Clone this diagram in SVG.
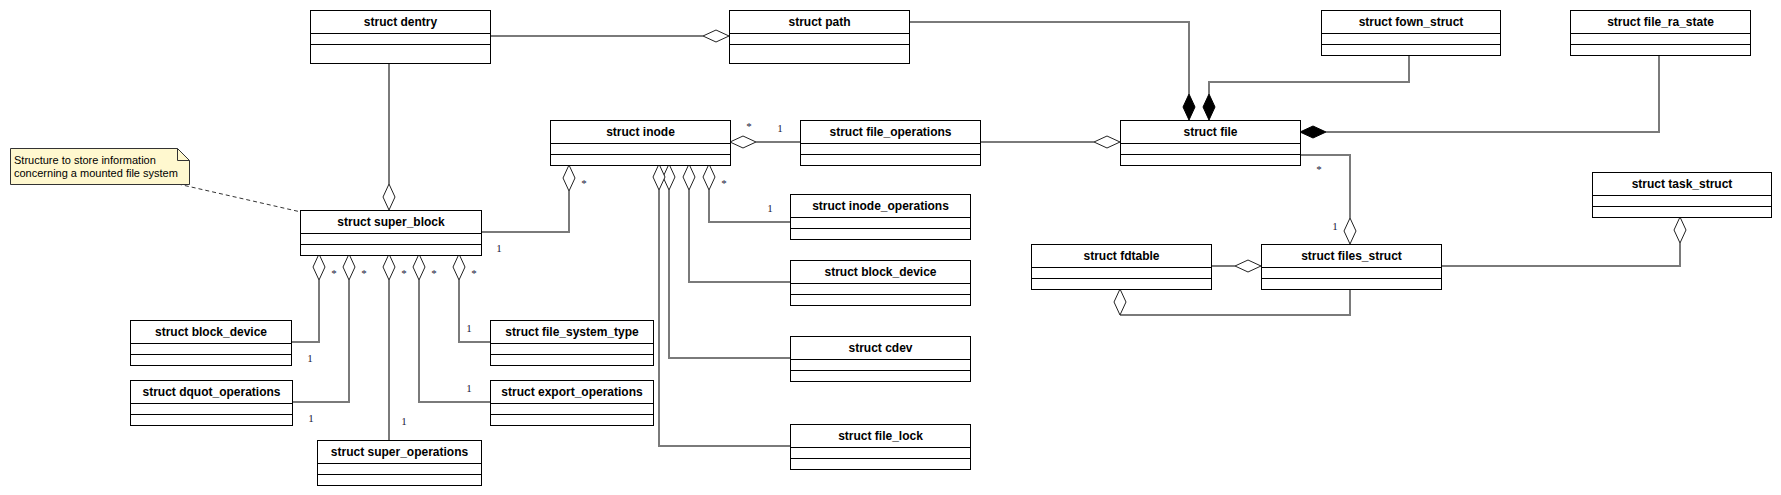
<svg xmlns="http://www.w3.org/2000/svg" width="1781" height="495" viewBox="0 0 1781 495">
<style>
.box{fill:#fff;stroke:#000;stroke-width:1}
.sep{stroke:#000;stroke-width:1}
.t{font-family:"Liberation Sans",Arial,sans-serif;font-weight:bold;font-size:12px;fill:#000;text-anchor:middle}
.ln{fill:none;stroke:#7a7a7a;stroke-width:2}
.od{fill:#fff;stroke:#222;stroke-width:1}
.fd{fill:#000;stroke:#000;stroke-width:1}
.m{font-family:"Liberation Serif","Times New Roman",serif;font-size:11px;fill:#1a1a3a;text-anchor:middle}
.note{fill:#fff8cf;stroke:#333;stroke-width:1}
.nt{font-family:"Liberation Sans",Arial,sans-serif;font-size:11px;fill:#000}
</style>
<rect width="1781" height="495" fill="#fff"/>
<g id="connectors">
<path class="ln" d="M490,36 H703"/>
<polygon class="od" points="703,36 716,30 729,36 716,42"/>
<path class="ln" d="M389,63 V184"/>
<polygon class="od" points="389,184 395,197 389,210 383,197"/>
<path class="ln" d="M909,22 H1189 V94"/>
<polygon class="fd" points="1189,94 1195,107 1189,120 1183,107"/>
<path class="ln" d="M1409,55 V82 H1209 V94"/>
<polygon class="fd" points="1209,94 1215,107 1209,120 1203,107"/>
<path class="ln" d="M1659,55 V132 H1326"/>
<polygon class="fd" points="1300,132 1313,126 1326,132 1313,138"/>
<path class="ln" d="M980,142 H1094"/>
<polygon class="od" points="1094,142 1107,136 1120,142 1107,148"/>
<path class="ln" d="M800,142 H756"/>
<polygon class="od" points="730,142 743,136 756,142 743,148"/>
<text class="m" x="749" y="130">*</text>
<text class="m" x="780" y="132">1</text>
<path class="ln" d="M481,232 H569 V191"/>
<polygon class="od" points="569,165 575,178 569,191 563,178"/>
<text class="m" x="584" y="187">*</text>
<text class="m" x="499" y="252">1</text>
<path class="ln" d="M790,222 H709 V190"/>
<polygon class="od" points="709,164 715,177 709,190 703,177"/>
<text class="m" x="724" y="187">*</text>
<text class="m" x="770" y="212">1</text>
<path class="ln" d="M790,282 H689 V190"/>
<polygon class="od" points="689,164 695,177 689,190 683,177"/>
<path class="ln" d="M790,358 H669 V190"/>
<polygon class="od" points="669,164 675,177 669,190 663,177"/>
<path class="ln" d="M790,446 H659 V190"/>
<polygon class="od" points="659,164 665,177 659,190 653,177"/>
<path class="ln" d="M291,342 H319 V280"/>
<polygon class="od" points="319,254 325,267 319,280 313,267"/>
<text class="m" x="334" y="277">*</text>
<text class="m" x="310" y="362">1</text>
<path class="ln" d="M292,402 H349 V280"/>
<polygon class="od" points="349,254 355,267 349,280 343,267"/>
<text class="m" x="364" y="277">*</text>
<text class="m" x="311" y="422">1</text>
<path class="ln" d="M389,440 V280"/>
<polygon class="od" points="389,254 395,267 389,280 383,267"/>
<text class="m" x="404" y="277">*</text>
<text class="m" x="404" y="425">1</text>
<path class="ln" d="M490,402 H419 V280"/>
<polygon class="od" points="419,254 425,267 419,280 413,267"/>
<text class="m" x="434" y="277">*</text>
<text class="m" x="469" y="392">1</text>
<path class="ln" d="M490,342 H459 V280"/>
<polygon class="od" points="459,254 465,267 459,280 453,267"/>
<text class="m" x="474" y="277">*</text>
<text class="m" x="469" y="332">1</text>
<path class="ln" d="M1300,155 H1350 V218"/>
<polygon class="od" points="1350,218 1356,231 1350,244 1344,231"/>
<text class="m" x="1319" y="173">*</text>
<text class="m" x="1335" y="230">1</text>
<path class="ln" d="M1211,266 H1235"/>
<polygon class="od" points="1235,266 1248,260 1261,266 1248,272"/>
<path class="ln" d="M1350,289 V315 H1120"/>
<polygon class="od" points="1120,289 1126,302 1120,315 1114,302"/>
<path class="ln" d="M1441,266 H1680 V243"/>
<polygon class="od" points="1680,217 1686,230 1680,243 1674,230"/>
<path d="M178,184 L301,212" fill="none" stroke="#333" stroke-width="1" stroke-dasharray="4,3"/>
</g>
<g id="note">
<path class="note" d="M10.5,148.5 H177.5 L189.5,160.5 V184.5 H10.5 Z"/>
<path d="M177.5,148.5 V160.5 H189.5" fill="none" stroke="#333" stroke-width="1"/>
<text class="nt" x="14" y="164">Structure to store information</text>
<text class="nt" x="14" y="177">concerning a mounted file system</text>
</g>
<g id="dentry"><rect class="box" x="310.5" y="10.5" width="180" height="53"/><path class="sep" d="M310.5,33.5 H490.5 M310.5,44.5 H490.5"/><text class="t" x="400.5" y="26">struct dentry</text></g>
<g id="path"><rect class="box" x="729.5" y="10.5" width="180" height="53"/><path class="sep" d="M729.5,33.5 H909.5 M729.5,44.5 H909.5"/><text class="t" x="819.5" y="26">struct path</text></g>
<g id="fown_struct"><rect class="box" x="1321.5" y="10.5" width="179" height="45"/><path class="sep" d="M1321.5,33.5 H1500.5 M1321.5,44.5 H1500.5"/><text class="t" x="1411" y="26">struct fown_struct</text></g>
<g id="file_ra_state"><rect class="box" x="1570.5" y="10.5" width="180" height="45"/><path class="sep" d="M1570.5,33.5 H1750.5 M1570.5,44.5 H1750.5"/><text class="t" x="1660.5" y="26">struct file_ra_state</text></g>
<g id="inode"><rect class="box" x="550.5" y="120.5" width="180" height="45"/><path class="sep" d="M550.5,143.5 H730.5 M550.5,154.5 H730.5"/><text class="t" x="640.5" y="136">struct inode</text></g>
<g id="file_operations"><rect class="box" x="800.5" y="120.5" width="180" height="45"/><path class="sep" d="M800.5,143.5 H980.5 M800.5,154.5 H980.5"/><text class="t" x="890.5" y="136">struct file_operations</text></g>
<g id="file"><rect class="box" x="1120.5" y="120.5" width="180" height="45"/><path class="sep" d="M1120.5,143.5 H1300.5 M1120.5,154.5 H1300.5"/><text class="t" x="1210.5" y="136">struct file</text></g>
<g id="task_struct"><rect class="box" x="1592.5" y="172.5" width="179" height="45"/><path class="sep" d="M1592.5,195.5 H1771.5 M1592.5,206.5 H1771.5"/><text class="t" x="1682" y="188">struct task_struct</text></g>
<g id="super_block"><rect class="box" x="300.5" y="210.5" width="181" height="45"/><path class="sep" d="M300.5,233.5 H481.5 M300.5,244.5 H481.5"/><text class="t" x="391" y="226">struct super_block</text></g>
<g id="inode_operations"><rect class="box" x="790.5" y="194.5" width="180" height="45"/><path class="sep" d="M790.5,217.5 H970.5 M790.5,228.5 H970.5"/><text class="t" x="880.5" y="210">struct inode_operations</text></g>
<g id="fdtable"><rect class="box" x="1031.5" y="244.5" width="180" height="45"/><path class="sep" d="M1031.5,267.5 H1211.5 M1031.5,278.5 H1211.5"/><text class="t" x="1121.5" y="260">struct fdtable</text></g>
<g id="files_struct"><rect class="box" x="1261.5" y="244.5" width="180" height="45"/><path class="sep" d="M1261.5,267.5 H1441.5 M1261.5,278.5 H1441.5"/><text class="t" x="1351.5" y="260">struct files_struct</text></g>
<g id="block_device_sb"><rect class="box" x="130.5" y="320.5" width="161" height="45"/><path class="sep" d="M130.5,343.5 H291.5 M130.5,354.5 H291.5"/><text class="t" x="211" y="336">struct block_device</text></g>
<g id="file_system_type"><rect class="box" x="490.5" y="320.5" width="163" height="45"/><path class="sep" d="M490.5,343.5 H653.5 M490.5,354.5 H653.5"/><text class="t" x="572" y="336">struct file_system_type</text></g>
<g id="block_device_inode"><rect class="box" x="790.5" y="260.5" width="180" height="45"/><path class="sep" d="M790.5,283.5 H970.5 M790.5,294.5 H970.5"/><text class="t" x="880.5" y="276">struct block_device</text></g>
<g id="cdev"><rect class="box" x="790.5" y="336.5" width="180" height="45"/><path class="sep" d="M790.5,359.5 H970.5 M790.5,370.5 H970.5"/><text class="t" x="880.5" y="352">struct cdev</text></g>
<g id="dquot_operations"><rect class="box" x="130.5" y="380.5" width="162" height="45"/><path class="sep" d="M130.5,403.5 H292.5 M130.5,414.5 H292.5"/><text class="t" x="211.5" y="396">struct dquot_operations</text></g>
<g id="export_operations"><rect class="box" x="490.5" y="380.5" width="163" height="45"/><path class="sep" d="M490.5,403.5 H653.5 M490.5,414.5 H653.5"/><text class="t" x="572" y="396">struct export_operations</text></g>
<g id="file_lock"><rect class="box" x="790.5" y="424.5" width="180" height="45"/><path class="sep" d="M790.5,447.5 H970.5 M790.5,458.5 H970.5"/><text class="t" x="880.5" y="440">struct file_lock</text></g>
<g id="super_operations"><rect class="box" x="317.5" y="440.5" width="164" height="45"/><path class="sep" d="M317.5,463.5 H481.5 M317.5,474.5 H481.5"/><text class="t" x="399.5" y="456">struct super_operations</text></g>
</svg>
